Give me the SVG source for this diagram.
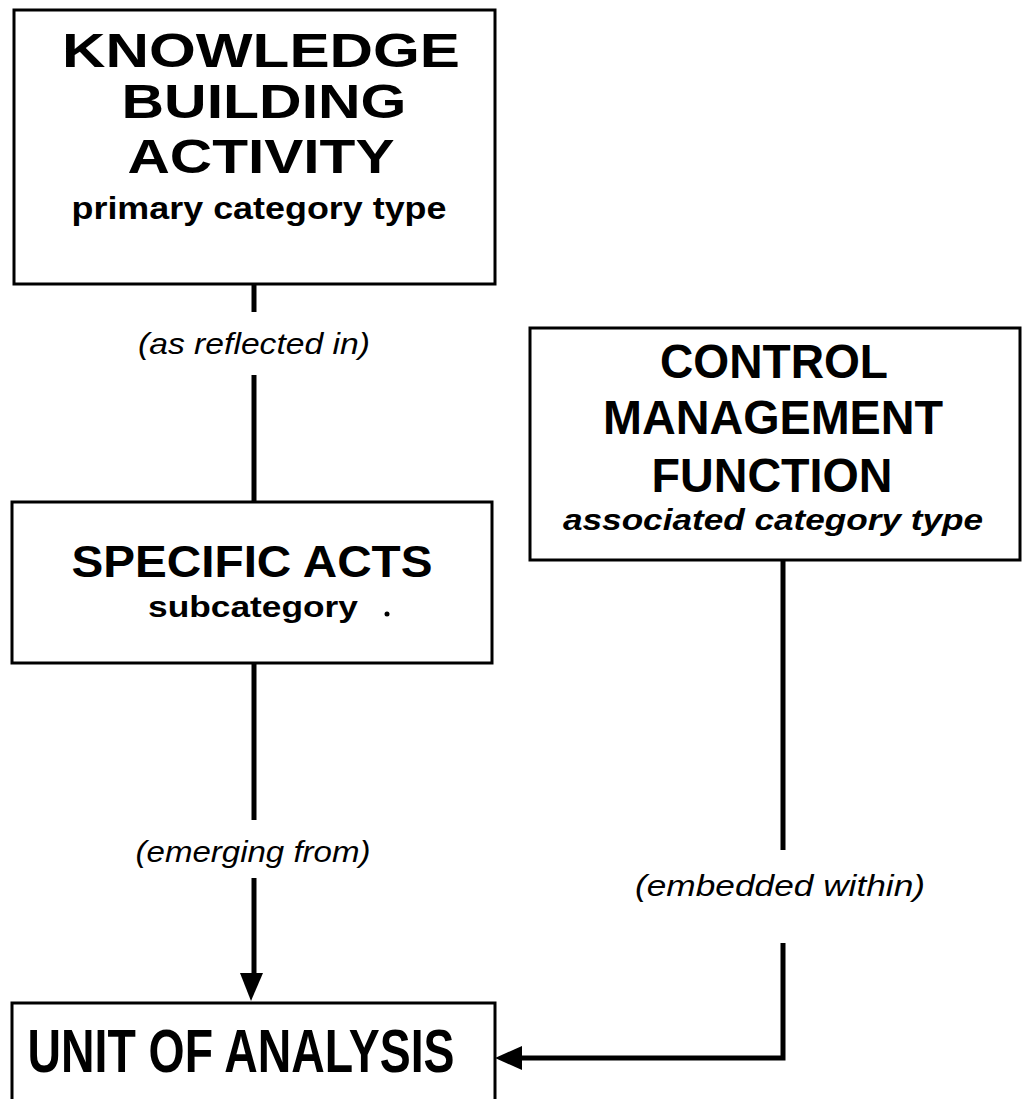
<svg xmlns="http://www.w3.org/2000/svg" width="1035" height="1099" viewBox="0 0 1035 1099">
<style>
.box{fill:#fff;stroke:#000;stroke-width:3}
.conn{stroke:#000;stroke-width:5;fill:none}
.t{font-family:"Liberation Sans",Arial,sans-serif;font-weight:bold;text-anchor:middle;fill:#000}
.lbl{font-family:"Liberation Sans",Arial,sans-serif;font-style:italic;text-anchor:middle;fill:#000;font-size:30px}
</style>
<rect width="1035" height="1099" fill="#fff"/>
<g id="connectors">
<line class="conn" x1="254" y1="284" x2="254" y2="312"/>
<line class="conn" x1="254" y1="375" x2="254" y2="502"/>
<line class="conn" x1="254" y1="663" x2="254" y2="820"/>
<line class="conn" x1="254" y1="878" x2="254" y2="978"/>
<polygon points="240,973 263,973 251,1001" fill="#000"/>
<line class="conn" x1="783" y1="561" x2="783" y2="850"/>
<polyline class="conn" points="783,943 783,1058 518,1058"/>
<polygon points="522,1046 522,1070 495,1058" fill="#000"/>
<text class="lbl" x="254" y="354" textLength="232" lengthAdjust="spacingAndGlyphs">(as reflected in)</text>
<text class="lbl" x="253" y="862" textLength="235" lengthAdjust="spacingAndGlyphs">(emerging from)</text>
<text class="lbl" x="780" y="896" textLength="290" lengthAdjust="spacingAndGlyphs">(embedded within)</text>
</g>
<g id="knowledge-building">
<rect class="box" x="14" y="10" width="481" height="274"/>
<text class="t" x="261" y="67" font-size="49" textLength="398" lengthAdjust="spacingAndGlyphs">KNOWLEDGE</text>
<text class="t" x="264" y="118" font-size="49" textLength="285" lengthAdjust="spacingAndGlyphs">BUILDING</text>
<text class="t" x="261" y="173" font-size="49" textLength="267" lengthAdjust="spacingAndGlyphs">ACTIVITY</text>
<text class="t" x="259" y="219" font-size="32" textLength="375" lengthAdjust="spacingAndGlyphs">primary category type</text>
</g>
<g id="specific-acts">
<rect class="box" x="12" y="502" width="480" height="161"/>
<text class="t" x="252" y="577" font-size="44" textLength="361" lengthAdjust="spacingAndGlyphs">SPECIFIC ACTS</text>
<text class="t" x="253" y="617" font-size="30" textLength="210" lengthAdjust="spacingAndGlyphs">subcategory</text>
<circle cx="387" cy="614" r="2.5" fill="#000"/>
</g>
<g id="control-management">
<rect class="box" x="530" y="328" width="490" height="232"/>
<text class="t" x="774" y="378" font-size="48" textLength="228" lengthAdjust="spacingAndGlyphs">CONTROL</text>
<text class="t" x="773" y="434" font-size="48" textLength="340" lengthAdjust="spacingAndGlyphs">MANAGEMENT</text>
<text class="t" x="772" y="492" font-size="48" textLength="241" lengthAdjust="spacingAndGlyphs">FUNCTION</text>
<text class="t" x="773" y="530" font-size="30" font-style="italic" textLength="420" lengthAdjust="spacingAndGlyphs">associated category type</text>
</g>
<g id="unit-of-analysis">
<rect class="box" x="12" y="1003" width="483" height="110"/>
<text class="t" x="241" y="1072" font-size="61" textLength="427" lengthAdjust="spacingAndGlyphs">UNIT OF ANALYSIS</text>
</g>
</svg>
